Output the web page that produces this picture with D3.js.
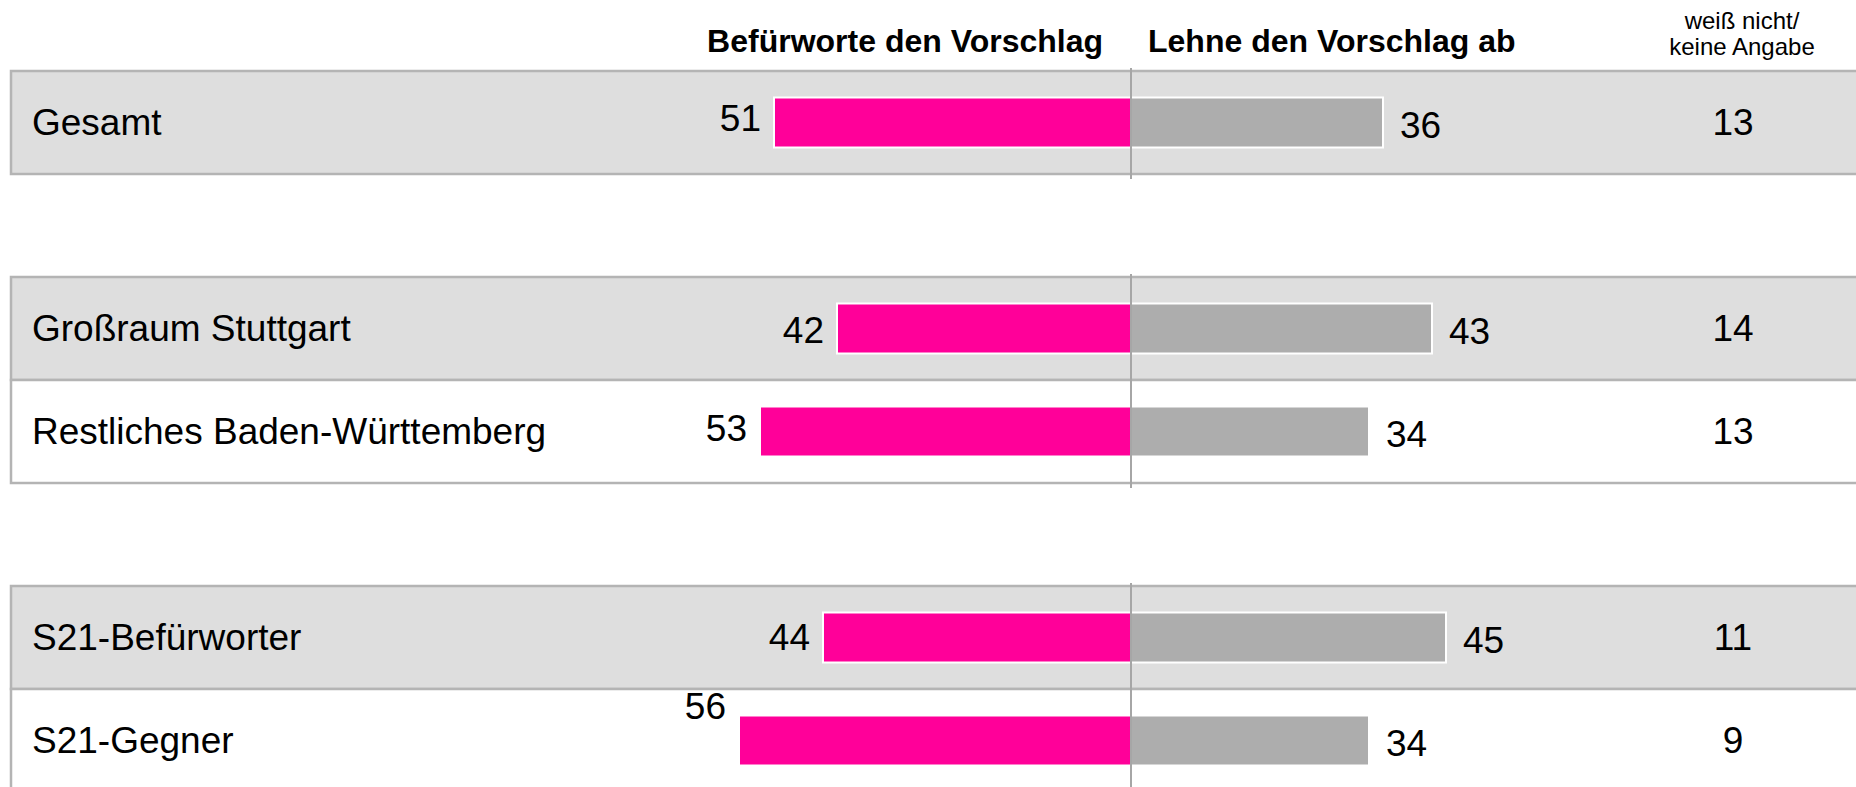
<html>
<head>
<meta charset="UTF-8">
<title>Vorschlag</title>
<script src="https://d3js.org/d3.v7.min.js"></script>
<style>
  body { margin: 0; background: #fff; }
  svg { display: block; font-family: "Liberation Sans", Arial, sans-serif; }
  .rowlabel { font-size: 37px; fill: #000; }
  .num { font-size: 37px; fill: #000; }
  .head { font-size: 32px; font-weight: bold; fill: #000; }
  .head2 { font-size: 24px; fill: #000; }
</style>
</head>
<body>
<svg width="1856" height="787"></svg>
<script>
// data
var categories = ["Gesamt", "Großraum Stuttgart", "Restliches Baden-Württemberg", "S21-Befürworter", "S21-Gegner"];
var groupOf = [0, 1, 1, 2, 2];
var befuerworte = [51, 42, 53, 44, 56];
var ablehnen = [36, 43, 34, 45, 34];
var weissNicht = [13, 14, 13, 11, 9];
var headLeft = "Befürworte den Vorschlag";
var headRight = "Lehne den Vorschlag ab";
var headDk = ["weiß nicht/", "keine Angabe"];

var svg = d3.select("svg");

// slots: rows plus an empty slot between groups
var slots = [];
categories.forEach(function (c, i) {
    if (i > 0 && groupOf[i] !== groupOf[i - 1]) slots.push("gap" + i);
    slots.push(c);
});

var y = d3.scaleBand().domain(slots).range([71, 71 + slots.length * 103]).padding(0);
var x = d3.scaleLinear().domain([0, 100]).range([0, 700]);
var cx = 1131;
var barH = 50;

var rows = categories.map(function (c, i) {
    var first = i === 0 || groupOf[i] !== groupOf[i - 1];
    return { name: c, g: groupOf[i], yes: befuerworte[i], no: ablehnen[i], dk: weissNicht[i], shaded: first };
});

// row backgrounds
svg.selectAll("rect.row")
    .data(rows)
    .enter()
    .append("rect")
    .attr("class", "row")
    .attr("x", 11)
    .attr("y", d => y(d.name))
    .attr("width", 1900)
    .attr("height", y.bandwidth())
    .attr("fill", d => d.shaded ? "#dedede" : "#ffffff")
    .attr("stroke", "#b4b4b4")
    .attr("stroke-width", 2.5);

// bars
svg.selectAll("rect.yes")
    .data(rows)
    .enter()
    .append("rect")
    .attr("x", d => cx - x(d.yes))
    .attr("y", d => y(d.name) + y.bandwidth() / 2 - barH / 2)
    .attr("width", d => x(d.yes))
    .attr("height", barH)
    .attr("fill", "#ff0099")
    .attr("stroke", "#ffffff")
    .attr("stroke-width", 2);

svg.selectAll("rect.no")
    .data(rows)
    .enter()
    .append("rect")
    .attr("x", cx)
    .attr("y", d => y(d.name) + y.bandwidth() / 2 - barH / 2)
    .attr("width", d => x(d.no))
    .attr("height", barH)
    .attr("fill", "#adadad")
    .attr("stroke", "#ffffff")
    .attr("stroke-width", 2);

// center line per group
var groups = d3.groups(rows, d => d.g);
groups.forEach(function (gr) {
    var list = gr[1];
    var top = y(list[0].name);
    var bottom = y(list[list.length - 1].name) + y.bandwidth();
    svg.append("line")
        .attr("x1", cx).attr("x2", cx)
        .attr("y1", top - 3).attr("y2", bottom + 5)
        .attr("stroke", "#a6a6a6")
        .attr("stroke-width", 2);
});

// texts
var mid = d => y(d.name) + y.bandwidth() / 2;
// the 56 label sits higher in the original
var yesNudge = [-4, 2, -3, 0, -34];

svg.selectAll("text.rowlabel")
    .data(rows)
    .enter()
    .append("text")
    .attr("class", "rowlabel")
    .attr("x", 32)
    .attr("y", mid)
    .attr("dy", "0.35em")
    .text(d => d.name);

svg.selectAll("text.yesnum")
    .data(rows)
    .enter()
    .append("text")
    .attr("class", "num")
    .attr("x", d => cx - x(d.yes) - 13)
    .attr("y", (d, i) => mid(d) + yesNudge[i])
    .attr("dy", "0.35em")
    .attr("text-anchor", "end")
    .text(d => d.yes);

svg.selectAll("text.nonum")
    .data(rows)
    .enter()
    .append("text")
    .attr("class", "num")
    .attr("x", d => cx + x(d.no) + 17)
    .attr("y", d => mid(d) + 3)
    .attr("dy", "0.35em")
    .text(d => d.no);

svg.selectAll("text.dknum")
    .data(rows)
    .enter()
    .append("text")
    .attr("class", "num")
    .attr("x", 1733)
    .attr("y", mid)
    .attr("dy", "0.35em")
    .attr("text-anchor", "middle")
    .text(d => d.dk);

// headers
svg.append("text")
    .attr("class", "head")
    .attr("x", cx - 28)
    .attr("y", 41)
    .attr("dy", "0.35em")
    .attr("text-anchor", "end")
    .text(headLeft);

svg.append("text")
    .attr("class", "head")
    .attr("x", cx + 17)
    .attr("y", 41)
    .attr("dy", "0.35em")
    .text(headRight);

svg.selectAll("text.head2")
    .data(headDk)
    .enter()
    .append("text")
    .attr("class", "head2")
    .attr("x", 1742)
    .attr("y", (d, i) => 21 + i * 26)
    .attr("dy", "0.35em")
    .attr("text-anchor", "middle")
    .text(d => d);
</script>
</body>
</html>
